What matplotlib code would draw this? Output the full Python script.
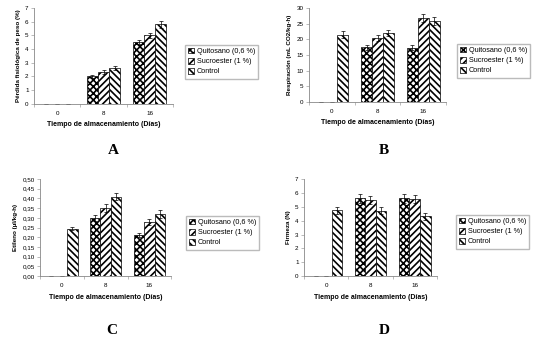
import numpy as np
import matplotlib
matplotlib.use('Agg')
import matplotlib.pyplot as plt
from matplotlib.patches import Patch

### data
dias = ['0', '8', '16']
series = ['Quitosano (0,6 %)', 'Sucroester (1 %)', 'Control']

perdida_q = [0.0, 2.0, 4.5]
perdida_s = [0.0, 2.3, 5.0]
perdida_c = [0.0, 2.6, 5.8]
perdida_err = [[0.0, 0.1, 0.15], [0.0, 0.15, 0.2], [0.0, 0.15, 0.25]]

resp_q = [0.0, 17.5, 17.3]
resp_s = [0.0, 20.5, 26.8]
resp_c = [21.5, 22.0, 25.8]
resp_err = [[0.0, 0.8, 0.9], [0.0, 1.0, 1.4], [1.0, 1.1, 1.2]]

etileno_q = [0.0, 0.30, 0.21]
etileno_s = [0.0, 0.35, 0.28]
etileno_c = [0.245, 0.41, 0.32]
etileno_err = [[0.0, 0.015, 0.01], [0.0, 0.02, 0.015], [0.01, 0.02, 0.02]]

firmeza_q = [0.0, 5.6, 5.6]
firmeza_s = [0.0, 5.5, 5.55]
firmeza_c = [4.75, 4.7, 4.3]
firmeza_err = [[0.0, 0.3, 0.3], [0.0, 0.3, 0.3], [0.25, 0.25, 0.25]]

hatches = ['xxxxx', '/////', '\\\\\\\\\\']
plt.rcParams['hatch.linewidth'] = 1.2
plt.rcParams['font.family'] = 'Liberation Sans'


def draw_panel(fig, rect, vals, errs, ylim, yticks, yfmt, ylabel, letter, letter_xy, leg_anchor):
    ax = fig.add_axes(rect)
    x = np.arange(len(dias))
    w = 0.24
    for i, (v, e) in enumerate(zip(vals, errs)):
        ax.bar(x + (i - 1) * w, v, width=w, color='white', edgecolor='black',
               hatch=hatches[i], linewidth=0.5, yerr=e,
               error_kw=dict(elinewidth=0.5, capsize=1.5, capthick=0.5, ecolor='black'))
    ax.set_xlim(-0.5, 2.5)
    ax.set_ylim(*ylim)
    ax.set_yticks(yticks)
    ax.set_yticklabels([yfmt(t) for t in yticks], fontsize=4.5)
    ax.set_xticks(x)
    ax.set_xticklabels(dias, fontsize=4.5)
    ax.set_xticks([-0.5, 0.5, 1.5, 2.5], minor=True)
    ax.tick_params(axis='x', which='major', length=0, pad=5)
    ax.tick_params(axis='x', which='minor', length=2, width=0.4, color='#888888')
    ax.tick_params(axis='y', length=2, width=0.4, color='#888888', pad=2)
    for s in ['top', 'right']:
        ax.spines[s].set_visible(False)
    for s in ['left', 'bottom']:
        ax.spines[s].set_color('#888888')
        ax.spines[s].set_linewidth(0.6)
    ax.set_ylabel(ylabel, fontsize=4.5, fontweight='bold', labelpad=3)
    ax.set_xlabel('Tiempo de almacenamiento (Días)', fontsize=5, fontweight='bold', labelpad=4)
    handles = [Patch(facecolor='white', edgecolor='black', hatch=hatches[i], linewidth=0.5)
               for i in range(3)]
    fig.legend(handles, series, loc='upper left', bbox_to_anchor=leg_anchor,
               fontsize=5.2, frameon=True, fancybox=False, edgecolor='#aaaaaa',
               handlelength=0.8, handleheight=0.8, handletextpad=0.4,
               labelspacing=0.4, borderpad=0.45)
    fig.text(letter_xy[0], letter_xy[1], letter, fontsize=11, fontweight='bold',
             family='Liberation Serif', ha='center', va='center')
    return ax


fig = plt.figure(figsize=(5.42, 3.43), dpi=100)

draw_panel(fig, [0.063, 0.697, 0.256, 0.280],
           [perdida_q, perdida_s, perdida_c], perdida_err,
           (0, 7), np.arange(0, 8, 1), lambda t: f'{t:.0f}',
           'Pérdida fisiológica de peso (%)', 'A', (113 / 542, 1 - 150 / 343),
           (181 / 542, 1 - 41 / 343))

draw_panel(fig, [0.570, 0.703, 0.253, 0.274],
           [resp_q, resp_s, resp_c], resp_err,
           (0, 30), np.arange(0, 35, 5), lambda t: f'{t:.0f}',
           'Respiración (mL CO2/kg-h)', 'B', (384 / 542, 1 - 150 / 343),
           (453 / 542, 1 - 40 / 343))

draw_panel(fig, [0.074, 0.195, 0.242, 0.283],
           [etileno_q, etileno_s, etileno_c], etileno_err,
           (0, 0.5), np.round(np.arange(0, 0.55, 0.05), 2), lambda t: f'{t:.2f}'.replace('.', ','),
           'Etileno (µl/kg-h)', 'C', (112 / 542, 1 - 330 / 343),
           (182 / 542, 1 - 212 / 343))

draw_panel(fig, [0.561, 0.195, 0.245, 0.283],
           [firmeza_q, firmeza_s, firmeza_c], firmeza_err,
           (0, 7), np.arange(0, 8, 1), lambda t: f'{t:.0f}',
           'Firmeza (N)', 'D', (384 / 542, 1 - 330 / 343),
           (452 / 542, 1 - 211 / 343))

fig.savefig('out.png', dpi=100)
